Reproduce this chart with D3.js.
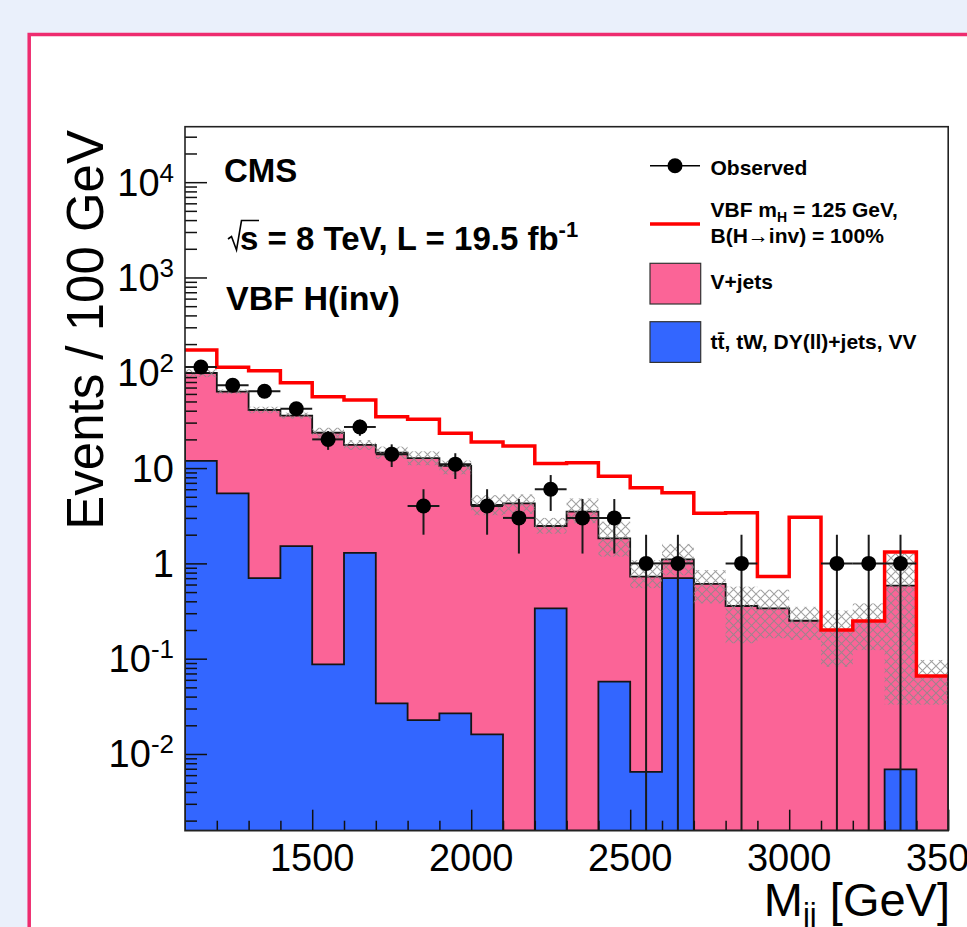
<!DOCTYPE html>
<html>
<head>
<meta charset="utf-8">
<script src="https://cdn.jsdelivr.net/npm/d3@7"></script>
<style>
  body { margin: 0; overflow: hidden; background: #eaf0fb; }
  svg text { font-family: "Liberation Sans", Arial, Helvetica, sans-serif; }
</style>
</head>
<body>
<svg id="chart" width="967" height="927"></svg>
<script>
// ---------------- data ----------------
const massBinLow = [1100, 1200, 1300, 1400, 1500, 1600, 1700, 1800, 1900, 2000, 2100, 2200,
                    2300, 2400, 2500, 2600, 2700, 2800, 2900, 3000, 3100, 3200, 3300, 3400];
const binWidth = 100;
const observed  = [115, 74, 64, 42, 20, 27, 14, 4, 11, 4, 3, 6, 3, 3, 1, 1, 0, 1, 0, 0, 1, 1, 1, 0];
const vJets     = [87.6, 58.0, 40.0, 34.0, 23.4, 16.2, 14.5, 12.7, 10.5, 4.1, 4.27, 2.13,
                   3.5, 1.77, 0.72, 0.40, 0.61, 0.357, 0.338, 0.25, 0.20, 0.249, 0.576, 0.066];
const otherBkg  = [11.9, 5.44, 0.70, 1.52, 0.087, 1.29, 0.034, 0.0227, 0.0267, 0.0161, 0, 0.338,
                   0, 0.0574, 0.0065, 0.70, 0, 0, 0, 0, 0, 0, 0.0069, 0];
const vbfSignal = [73.5, 50.6, 64.3, 43.2, 32.6, 34.3, 20.1, 19.8, 12.7, 14.7, 12.8, 8.7,
                   7.9, 6.4, 5.5, 4.4, 2.74, 3.04, 0.39, 2.8, 0, 0, 0.73, 0];
const bkgUncLow  = [90, 60, 37.6, 33, 20.8, 15.5, 12.5, 10.7, 8.6, 3.2, 3.3, 2.05,
                    2.64, 1.18, 0.55, 0.75, 0.38, 0.145, 0.164, 0.157, 0.082, 0.123, 0.033, 0.033];
const bkgUncHigh = [109, 67, 44, 38.2, 26.5, 19.7, 16.8, 15.0, 12.0, 5.2, 5.3, 3.0,
                    4.8, 2.74, 1.08, 1.6, 0.85, 0.57, 0.53, 0.35, 0.32, 0.38, 1.27, 0.097];
const xTickValues = [1500, 2000, 2500, 3000, 3500];
const xTickLabels = ["1500", "2000", "2500", "3000", "3500"];
const yTickValues = [1e-2, 1e-1, 1, 10, 1e2, 1e3, 1e4];
const yTickBase   = ["10", "10", "1", "10", "10", "10", "10"];
const yTickExp    = ["-2", "-1", "", "", "2", "3", "4"];

// ---------------- layout ----------------
const svg = d3.select("#chart");
const P = { left: 185, right: 948.2, top: 126.7, bottom: 830.7 };
const COL = { pink: "#fb6497", blue: "#3366ff", red: "#ff0000", frame: "#ee2c6f", bg: "#eaf0fb" };

const x = d3.scaleLinear().domain([1100, 3500]).range([P.left, P.right]);
const y = d3.scaleLog().domain([0.001567, 38200]).range([P.bottom, P.top]).clamp(true);
const fy = v => (v > 0 ? y(v) : P.bottom);

svg.append("rect").attr("width", 967).attr("height", 927).attr("fill", COL.bg);
svg.append("rect").attr("x", 29.2).attr("y", 34.5).attr("width", 1100).attr("height", 1100)
   .attr("fill", "#ffffff").attr("stroke", COL.frame).attr("stroke-width", 3.5);

const defs = svg.append("defs");
const pat = defs.append("pattern").attr("id", "hatch").attr("patternUnits", "userSpaceOnUse")
   .attr("width", 9).attr("height", 9);
pat.append("path").attr("d", "M0,0L9,9M9,0L0,9")
   .attr("stroke", "#8a8a8a").attr("stroke-width", 1.1).attr("fill", "none");
defs.append("clipPath").attr("id", "plotclip").append("rect")
   .attr("x", P.left).attr("y", P.top).attr("width", P.right - P.left).attr("height", P.bottom - P.top);

const plot = svg.append("g").attr("clip-path", "url(#plotclip)");
const total = vJets.map((v, i) => v + otherBkg[i]);
const withSignal = total.map((v, i) => v + vbfSignal[i]);

function stepPoints(values, closed) {
  const pts = [];
  values.forEach((v, i) => {
    const x0 = x(massBinLow[i]), x1 = x(massBinLow[i] + binWidth), yy = fy(v);
    if (i === 0 && closed) pts.push([x0, P.bottom]);
    pts.push([x0, yy]); pts.push([x1, yy]);
  });
  if (closed) pts.push([x(massBinLow[values.length - 1] + binWidth), P.bottom]);
  return pts;
}
const line = d3.line();

// stacked histograms
plot.append("path").attr("d", line(stepPoints(total, true)) + "Z")
    .attr("fill", COL.pink).attr("stroke", "#151515").attr("stroke-width", 1.8);
plot.append("path").attr("d", line(stepPoints(otherBkg, true)) + "Z")
    .attr("fill", COL.blue).attr("stroke", "#151515").attr("stroke-width", 1.8);

// uncertainty hatch band
plot.selectAll("rect.unc").data(massBinLow).join("rect").attr("class", "unc")
    .attr("x", d => x(d)).attr("width", d => x(d + binWidth) - x(d))
    .attr("y", (d, i) => fy(bkgUncHigh[i]))
    .attr("height", (d, i) => fy(bkgUncLow[i]) - fy(bkgUncHigh[i]))
    .attr("fill", "url(#hatch)").attr("opacity", 0.8);

// signal (stacked on background) line
plot.append("path").attr("d", line(stepPoints(withSignal, false)))
    .attr("fill", "none").attr("stroke", COL.red).attr("stroke-width", 3.5);

// axes ticks (inside)
const tickStyle = g => { g.select(".domain").remove(); g.selectAll("line").attr("stroke", "#111").attr("stroke-width", 1.5); };
const yMinor = [];
for (let d = -3; d <= 4; d++) for (let k = 2; k <= 9; k++) {
  const v = k * Math.pow(10, d);
  if (v > 0.001567 && v < 38200) yMinor.push(v);
}
svg.append("g").attr("transform", `translate(${P.left},0)`)
   .call(d3.axisLeft(y).tickValues(yTickValues).tickSize(-22).tickFormat("")).call(tickStyle);
svg.append("g").attr("transform", `translate(${P.left},0)`)
   .call(d3.axisLeft(y).tickValues(yMinor).tickSize(-12).tickFormat("")).call(tickStyle);
const xMinor = massBinLow.filter(v => v > 1100).concat([3500]).filter(v => !xTickValues.includes(v));
svg.append("g").attr("transform", `translate(0,${P.bottom})`)
   .call(d3.axisBottom(x).tickValues(xTickValues).tickSize(-21).tickFormat("")).call(tickStyle);
svg.append("g").attr("transform", `translate(0,${P.bottom})`)
   .call(d3.axisBottom(x).tickValues(xMinor).tickSize(-10).tickFormat("")).call(tickStyle);

// frame
svg.append("rect").attr("x", P.left).attr("y", P.top).attr("width", P.right - P.left)
   .attr("height", P.bottom - P.top).attr("fill", "none").attr("stroke", "#222").attr("stroke-width", 1.6);

// observed data
const dataG = svg.append("g").attr("clip-path", "url(#plotclip)");
observed.forEach((n, i) => {
  if (n <= 0) return;
  const xc = x(massBinLow[i] + binWidth / 2), yc = y(n), e = Math.sqrt(n);
  dataG.append("line").attr("x1", x(massBinLow[i])).attr("x2", x(massBinLow[i] + binWidth))
       .attr("y1", yc).attr("y2", yc).attr("stroke", "#1a1a1a").attr("stroke-width", 2);
  dataG.append("line").attr("x1", xc).attr("x2", xc).attr("y1", fy(n + e)).attr("y2", fy(n - e))
       .attr("stroke", "#1a1a1a").attr("stroke-width", 2);
  dataG.append("circle").attr("cx", xc).attr("cy", yc).attr("r", 7.5).attr("fill", "#000");
});

// y tick labels
yTickValues.forEach((v, i) => {
  const t = svg.append("text").attr("x", 174).attr("y", y(v) + 13.5).attr("text-anchor", "end")
     .attr("font-size", 38).attr("fill", "#000");
  t.append("tspan").text(yTickBase[i]);
  if (yTickExp[i]) t.append("tspan").attr("dy", -14).attr("font-size", 26).text(yTickExp[i]);
});
// x tick labels
xTickValues.forEach((v, i) => {
  svg.append("text").attr("x", x(v)).attr("y", 871).attr("text-anchor", "middle")
     .attr("font-size", 38).attr("fill", "#000").text(xTickLabels[i]);
});

// axis titles
svg.append("text").attr("transform", "translate(103,130) rotate(-90)").attr("text-anchor", "end")
   .attr("font-size", 51).attr("fill", "#000").text("Events / 100 GeV");
const xt = svg.append("text").attr("x", 950).attr("y", 916).attr("text-anchor", "end")
   .attr("font-size", 47).attr("fill", "#000");
xt.append("tspan").text("M");
xt.append("tspan").attr("font-size", 31).attr("dy", 9).text("jj");
xt.append("tspan").attr("dy", -9).text(" [GeV]");

// CMS labels
svg.append("text").attr("x", 224).attr("y", 181.7).attr("font-size", 33).attr("font-weight", "bold").text("CMS");
svg.append("path").attr("d", "M228,239 L231.5,236.5 L236.5,250 L241.5,220.5 L259,220.5")
   .attr("fill", "none").attr("stroke", "#000").attr("stroke-width", 1.6);
const lum = svg.append("text").attr("x", 240).attr("y", 250).attr("font-size", 33).attr("font-weight", "bold");
lum.append("tspan").text("s = 8 TeV, L = 19.5 fb");
lum.append("tspan").attr("dy", -13).attr("font-size", 22).text("-1");
svg.append("text").attr("x", 226).attr("y", 310).attr("font-size", 34).attr("font-weight", "bold").text("VBF H(inv)");

// legend
const lg = svg.append("g").attr("font-size", 21).attr("font-weight", "bold");
lg.append("line").attr("x1", 650).attr("x2", 700).attr("y1", 165.7).attr("y2", 165.7).attr("stroke", "#000").attr("stroke-width", 1.5);
lg.append("circle").attr("cx", 675).attr("cy", 165.7).attr("r", 7.5).attr("fill", "#000");
lg.append("text").attr("x", 710.5).attr("y", 175).text("Observed");
lg.append("line").attr("x1", 650).attr("x2", 700).attr("y1", 224).attr("y2", 224).attr("stroke", COL.red).attr("stroke-width", 3.5);
const l2 = lg.append("text").attr("x", 710.5).attr("y", 217.3);
l2.append("tspan").text("VBF m");
l2.append("tspan").attr("font-size", 14).attr("dy", 5).text("H");
l2.append("tspan").attr("dy", -5).text(" = 125 GeV,");
lg.append("text").attr("x", 710.5).attr("y", 242.7).text("B(H\u2192inv) = 100%");
lg.append("rect").attr("x", 650).attr("y", 263.3).attr("width", 50.7).attr("height", 40.7)
  .attr("fill", COL.pink).attr("stroke", "#333").attr("stroke-width", 1.2);
lg.append("text").attr("x", 710.5).attr("y", 289.3).text("V+jets");
lg.append("rect").attr("x", 650).attr("y", 321.7).attr("width", 50.7).attr("height", 40.7)
  .attr("fill", COL.blue).attr("stroke", "#333").attr("stroke-width", 1.2);
lg.append("text").attr("x", 710.5).attr("y", 349).text("tt\u0304, tW, DY(ll)+jets, VV");
</script>
</body>
</html>
